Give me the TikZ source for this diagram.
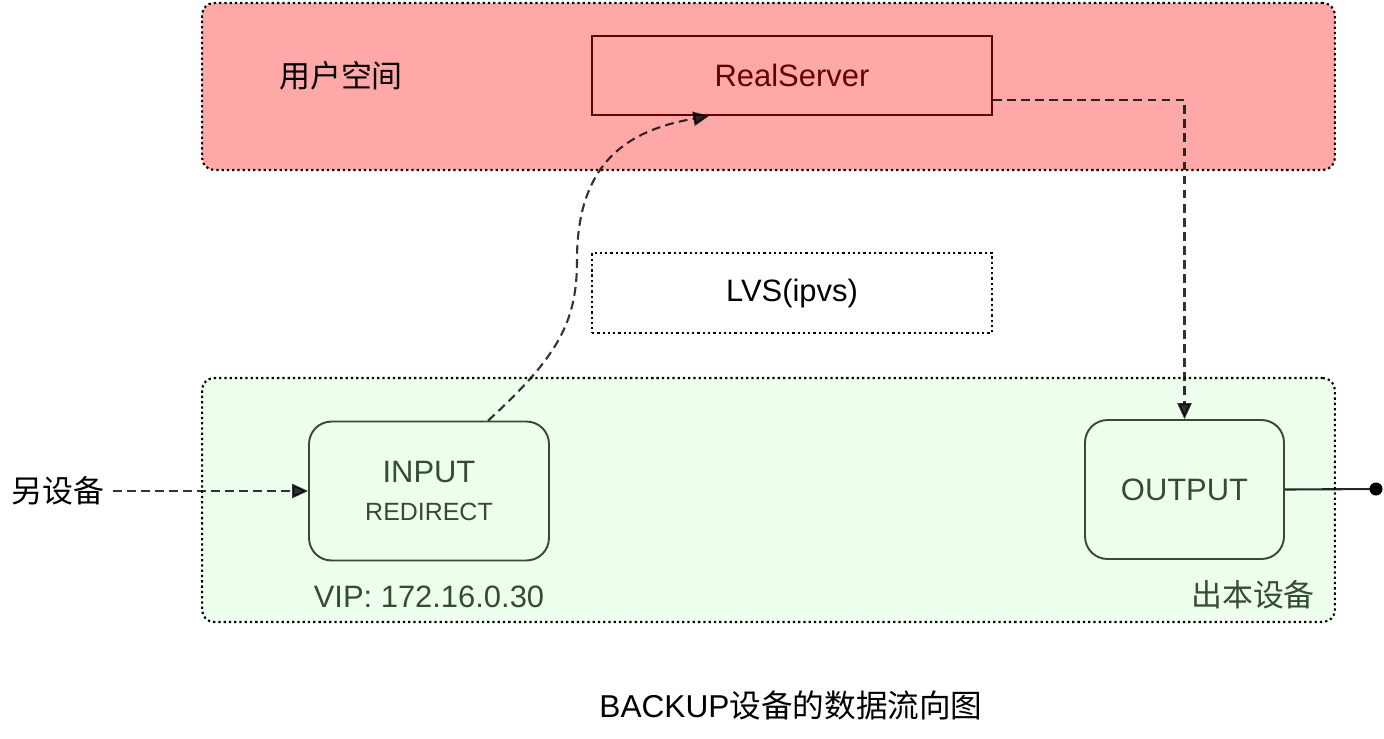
\documentclass[tikz,border=0pt]{standalone}
\usepackage{fontspec}
\setmainfont{Liberation Sans}
\newfontfamily\cjk{Noto Sans CJK SC}
\usepackage{xcolor}
\usetikzlibrary{arrows.meta}
\definecolor{userfill}{HTML}{FFA8A8}
\definecolor{kernfill}{HTML}{EEFFEE}
\definecolor{rsline}{HTML}{660000}
\definecolor{procline}{HTML}{334D33}

\begin{document}
\begin{tikzpicture}[
    x=0.02cm, y=-0.02cm,
    every node/.style = {
        font=\fontsize{17.6}{21}\selectfont, inner sep=0pt
    },
    zone/.style = {
        draw, line width=1.2pt, dash pattern=on 1.3pt off 1.7pt,
        rounded corners=0.24cm, minimum width=22.66cm
    },
    proc/.style = {
        draw=procline, line width=1.1pt, rounded corners=0.45cm,
        fill=kernfill, text=procline, minimum height=2.78cm
    },
    flow/.style = {
        draw, line width=1.2pt, opacity=0.8, dash pattern=on 5pt off 3pt,
        -{Triangle[length=9pt, width=8pt]}
    }
]
\useasboundingbox (0,0) rectangle (1384,738);

\node[zone, fill=userfill, minimum height=3.34cm] (user) at (768.5,86.5) {};
\node[zone, fill=kernfill, minimum height=4.88cm] (kern) at (768.5,500) {};

\node (userlabel) at (341,76) {\cjk 用户空间};
\node[draw=rsline, line width=1.1pt, text=rsline,
    minimum width=8cm, minimum height=1.58cm] (rs) at (792,75.5) {RealServer};
\node[draw, line width=1.2pt, dash pattern=on 1.3pt off 1.7pt,
    minimum width=8cm, minimum height=1.6cm] (lvs) at (792,293) {LVS(ipvs)};

\node[proc, minimum width=4.8cm, align=center] (input) at (429,491)
    {INPUT\\[1pt]{\fontsize{14.2}{16}\selectfont REDIRECT}};
\node[proc, minimum width=3.98cm] (output) at (1184.5,489.5) {OUTPUT};
\node[text=procline] (vip) at (429,597) {VIP: 172.16.0.30};
\node[text=procline] (local) at (1253,595) {\cjk 出本设备};

\node (peer) at (58,491) {\cjk 另设备};
\node[font=\fontsize{18}{21}\selectfont] (caption) at (791,705) {BACKUP{\cjk 设备的数据流向图}};
\coordinate (sink) at (1376,489);

\draw[flow, shorten <=0.16cm] (peer.east) -- (peer.east -| input.west);
\draw[flow] (input.50) .. controls (560,355) and (577,320) .. (577,260)
    .. controls (577,160) and (630,130) .. (rs.206);
\draw[flow] (rs.-7) -| (output.north);
\draw[line width=1.2pt, opacity=0.85] (output.east) -- (sink);
\fill (sink) circle (0.13cm);
\end{tikzpicture}
\end{document}
